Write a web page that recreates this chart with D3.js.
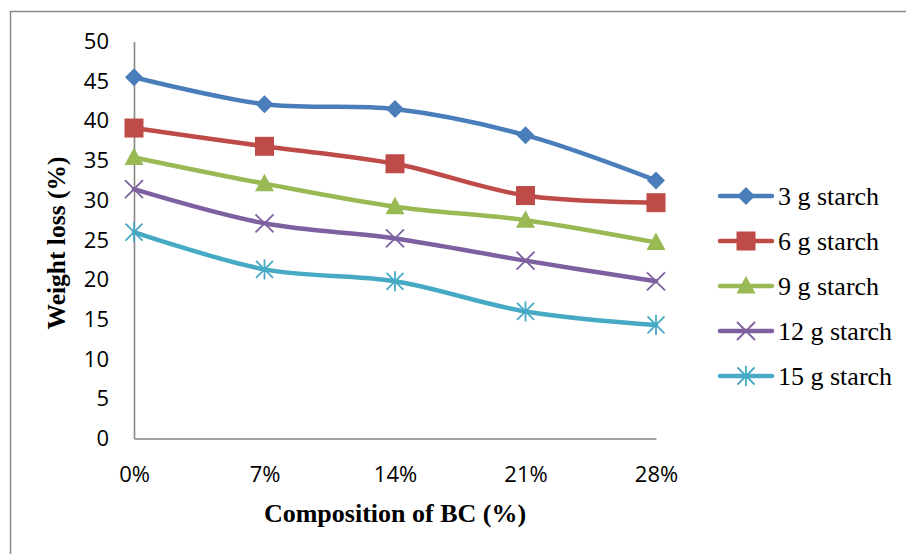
<!DOCTYPE html>
<html>
<head>
<meta charset="utf-8">
<script src="https://cdn.jsdelivr.net/npm/d3@7"></script>
<style>
  html, body { margin: 0; padding: 0; background: #fff; }
  svg { display: block; }
</style>
</head>
<body>
<svg id="chart" width="906" height="554"></svg>
<script>
// Weight loss of films vs. BC composition, for five starch loadings
const categories = ["0%", "7%", "14%", "21%", "28%"];
const seriesNames = ["3 g starch", "6 g starch", "9 g starch", "12 g starch", "15 g starch"];
const starch3  = [45.5, 42.1, 41.5, 38.2, 32.5];
const starch6  = [39.1, 36.8, 34.6, 30.6, 29.7];
const starch9  = [35.4, 32.1, 29.2, 27.5, 24.7];
const starch12 = [31.4, 27.1, 25.2, 22.4, 19.8];
const starch15 = [26.0, 21.3, 19.8, 16.0, 14.3];
const yTicks = [0, 5, 10, 15, 20, 25, 30, 35, 40, 45, 50];
const colors = ["#4A7EBB", "#BE4B48", "#98B954", "#7D60A0", "#46AAC5"];
const markers = ["diamond", "square", "triangle", "cross", "star"];

const series = seriesNames.map((name, i) => ({
  name,
  values: [starch3, starch6, starch9, starch12, starch15][i],
  color: colors[i],
  marker: markers[i]
}));

const svg = d3.select("#chart");

// outer chart frame
svg.append("rect")
  .attr("x", 10.5).attr("y", 11.5)
  .attr("width", 920).attr("height", 560)
  .attr("fill", "none").attr("stroke", "#8a8a8a").attr("stroke-width", 1.5);

const x = d3.scalePoint().domain(categories).range([134, 656]);
const y = d3.scaleLinear().domain([0, 50]).range([438.5, 41.5]);

const axisColor = "#868686";
const tickFont = "'Open Sans', 'Liberation Sans', sans-serif";
const serif = "'Liberation Serif', 'Times New Roman', serif";

// y axis
const yAxis = svg.append("g").attr("transform", "translate(134,0)")
  .call(d3.axisLeft(y).tickValues(yTicks).tickSize(0).tickPadding(25).tickFormat(d3.format("d")));
yAxis.select(".domain").attr("stroke", axisColor).attr("stroke-width", 1.6);
yAxis.selectAll("text").attr("font-family", tickFont).attr("font-size", 22).attr("fill", "#000");

// x axis
const xAxis = svg.append("g").attr("transform", "translate(0,438.5)")
  .call(d3.axisBottom(x).tickSize(0).tickPadding(28));
xAxis.select(".domain").attr("stroke", axisColor).attr("stroke-width", 1.6);
xAxis.selectAll("text").attr("font-family", tickFont).attr("font-size", 22).attr("fill", "#000");

// axis titles
svg.append("text")
  .attr("x", 395).attr("y", 522)
  .attr("text-anchor", "middle")
  .attr("font-family", serif)
  .attr("font-weight", "bold").attr("font-size", 26)
  .text("Composition of BC (%)");

svg.append("text")
  .attr("transform", "translate(65,243) rotate(-90)")
  .attr("text-anchor", "middle")
  .attr("font-family", serif)
  .attr("font-weight", "bold").attr("font-size", 25.5)
  .text("Weight loss (%)");

// marker drawing
function drawMarker(g, type, color) {
  if (type === "diamond") {
    g.append("path").attr("d", "M0,-9L9,0L0,9L-9,0Z").attr("fill", color);
  } else if (type === "square") {
    g.append("rect").attr("x", -9.5).attr("y", -9.5).attr("width", 19).attr("height", 19).attr("fill", color);
  } else if (type === "triangle") {
    g.append("path").attr("d", "M0,-10L9.5,7.5L-9.5,7.5Z").attr("fill", color);
  } else if (type === "cross") {
    g.append("path").attr("d", "M-9,-9L9,9M9,-9L-9,9")
      .attr("stroke", color).attr("stroke-width", 1.8).attr("fill", "none");
  } else if (type === "star") {
    g.append("path").attr("d", "M-8.5,-8.5L8.5,8.5M8.5,-8.5L-8.5,8.5M0,-10L0,10")
      .attr("stroke", color).attr("stroke-width", 1.8).attr("fill", "none");
  }
}

const line = d3.line()
  .x((d, i) => x(categories[i]))
  .y(d => y(d))
  .curve(d3.curveCatmullRom.alpha(0));

const plot = svg.append("g");
series.forEach(s => {
  plot.append("path")
    .attr("d", line(s.values))
    .attr("fill", "none")
    .attr("stroke", s.color)
    .attr("stroke-width", 4.5)
    .attr("stroke-linejoin", "round")
    .attr("stroke-linecap", "round");
});
series.forEach(s => {
  s.values.forEach((v, i) => {
    const g = plot.append("g").attr("transform", `translate(${x(categories[i])},${y(v)})`);
    drawMarker(g, s.marker, s.color);
  });
});

// legend
const legend = svg.append("g");
series.forEach((s, i) => {
  const cy = 196 + i * 45;
  const row = legend.append("g").attr("transform", `translate(0,${cy})`);
  row.append("line").attr("x1", 720).attr("x2", 772).attr("y1", 0).attr("y2", 0)
    .attr("stroke", s.color).attr("stroke-width", 4.5).attr("stroke-linecap", "round");
  const m = row.append("g").attr("transform", "translate(746,0)");
  drawMarker(m, s.marker, s.color);
  row.append("text")
    .attr("x", 778).attr("y", 8.6)
    .attr("font-family", serif)
    .attr("font-size", 26).attr("fill", "#000")
    .text(s.name);
});
</script>
</body>
</html>
